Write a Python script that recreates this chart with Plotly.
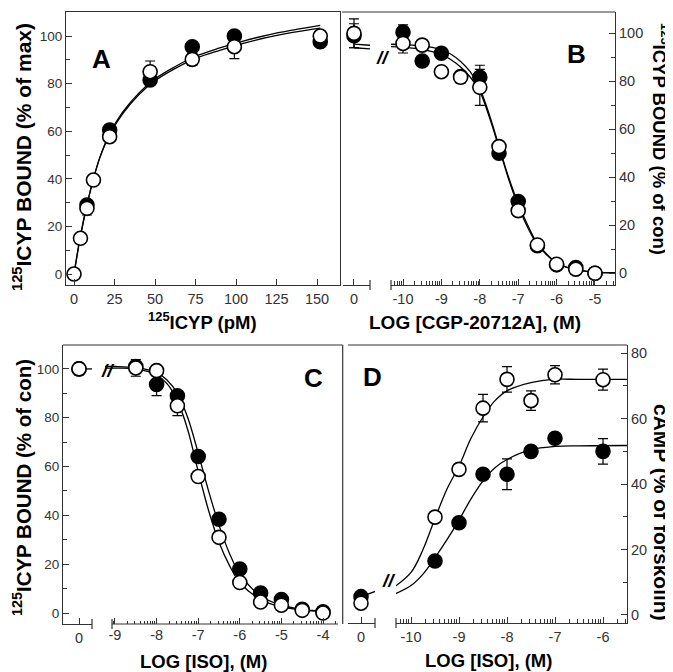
import numpy as np
import plotly.graph_objects as go

# The page body keeps an 8 px margin, so the figure is drawn 8 px smaller and
# all layout positions below are given in window pixels.
WIN_W, WIN_H = 673, 672
OFF = 8
W, H = WIN_W - OFF, WIN_H - OFF

# ---------------- data ----------------
# Panel A: saturation binding, 125ICYP (pM) vs % of max
a_conc_open = [0, 4, 8, 12, 22, 47, 73, 99, 152]
a_open = [0, 15, 27.6, 39.5, 57.7, 85, 90.2, 95.5, 100]
a_open_err = [0, 0, 2.8, 0, 0, 4.5, 2.5, 5, 0]
a_conc_fill = [8, 22, 47, 73, 99, 152]
a_fill = [29, 60.5, 81.5, 95.5, 100, 97.6]
a_fill_err = [0, 0, 2, 0, 0, 1.5]
a_fit_x = [0, 4, 8, 12, 16, 22, 30, 40, 50, 62, 75, 90, 105, 120, 135, 152]
a_fit_fill = [0, 16, 29, 40, 49, 59, 68, 76, 82, 87, 91.5, 95, 98, 100.5, 102.5, 104.5]
a_fit_open = [0, 16, 29, 40, 49, 58.5, 67.3, 75.3, 81.2, 86.2, 90.6, 94, 97, 99.5, 101.5, 103.3]

# Panel B: CGP-20712A competition
b_zero_fill, b_zero_fill_err = [99], [5]
b_zero_open, b_zero_open_err = [100], [6]
b_log = [-10, -9.5, -9, -8.5, -8, -7.5, -7, -6.5, -6, -5.5, -5]
b_fill = [100.5, 88.5, 91.7, 82, 81.7, 50, 29.9, 11.5, 3.5, 2.4, 0]
b_fill_err = [3, 0, 0, 0, 5, 0, 0, 0, 0, 0, 0]
b_open = [95.8, 95.1, 84, 81.7, 77.5, 52.8, 26.1, 11.8, 3.75, 1.7, 0]
b_open_err = [4, 0, 0, 2.5, 7.5, 0, 0, 0, 0, 0, 0]
b_fit_x = [-10.4, -10, -9.5, -9, -8.75, -8.5, -8.25, -8, -7.75, -7.5, -7.25, -7,
           -6.75, -6.5, -6, -5.5, -5, -4.4]
b_fit_fill = [95.5, 95.3, 94.8, 93.2, 91.3, 88.3, 84, 77, 66, 53, 40, 29, 20, 12.5,
              4.5, 1.5, 0.5, 0.2]
b_fit_open = [94.5, 94.2, 93.3, 91.2, 89, 86, 81.8, 75.8, 65, 52.3, 39.3, 28, 19, 12,
              4.3, 1.4, 0.5, 0.2]
b_stub_x = [0, 0.45]
b_stub_fill = [95.5, 95]
b_stub_open = [94, 93.5]

# Panel C: ISO competition
c_zero_fill, c_zero_fill_err = [100], [0]
c_zero_open, c_zero_open_err = [100], [2.4]
c_log = [-8.5, -8, -7.5, -7, -6.5, -6, -5.5, -5, -4.5, -4]
c_fill = [101, 93.6, 89, 64.1, 38.4, 18, 8.2, 5.5, 1.5, 0.5]
c_fill_err = [0, 4.5, 0, 0, 0, 0, 0, 0, 0, 0]
c_open = [100.4, 99.3, 84.9, 55.9, 31, 12.5, 4.5, 3.2, 1.1, 0]
c_open_err = [3.4, 0, 4, 0, 0, 0, 0, 0, 0, 0]
c_fit_x = [-9.3, -9, -8.5, -8, -7.75, -7.5, -7.25, -7, -6.75, -6.5, -6.25, -6,
           -5.5, -5, -4.5, -4]
c_fit_fill = [101, 101, 100.5, 98.5, 95.5, 90, 80, 65.5, 50, 36, 24.5, 16, 7, 3.2, 1.5, 0.8]
c_fit_open = [100.3, 100.3, 100, 97.5, 94, 87, 75, 58, 42, 29, 19.5, 12.5, 5.5, 2.5, 1.2, 0.6]
c_stub_x = [0, 0.4]
c_stub_open = [100, 100]

# Panel D: cAMP response to ISO
d_zero_fill = [5.6]
d_zero_open = [3.6]
d_log = [-9.5, -9, -8.5, -8, -7.5, -7, -6]
d_fill = [16.5, 28.2, 43, 43, 50, 54, 50]
d_fill_err = [0, 0, 0, 4.7, 0, 0, 3.9]
d_open = [29.9, 44.5, 63.2, 72, 65.5, 73.4, 71.9]
d_open_err = [0, 0, 4.2, 3.9, 3, 2.8, 3.2]
d_fit_x = [-10.4, -10, -9.75, -9.5, -9.25, -9, -8.75, -8.5, -8.25, -8, -7.5, -7, -6.5, -5.4]
d_fit_open = [8, 13, 20, 29.5, 38.5, 45.5, 54, 60.5, 65.5, 68.5, 71, 72, 72, 72]
d_fit_fill = [6, 9, 12.5, 17.5, 23, 29, 35.5, 41, 45, 47.5, 50.5, 51.5, 51.7, 51.8]
d_stub_x = [0, 0.35]
d_stub_fill = [5.6, 7.5]

# tick labels
a_xticks = [0, 25, 50, 75, 100, 125, 150]
pct_ticks = [0, 20, 40, 60, 80, 100]
pct_minor = [10, 30, 50, 70, 90]
camp_ticks = [0, 20, 40, 60, 80]
camp_minor = [10, 30, 50, 70]
b_xticks = [-10, -9, -8, -7, -6, -5]
c_xticks = [-9, -8, -7, -6, -5, -4]
d_xticks = [-10, -9, -8, -7, -6]


def fx(p):
    return (p - OFF) / W


def fy(p):
    return 1 - (p - OFF) / H


def xdom(a, b):
    return [fx(a), fx(b)]


def ydom(top, bottom):
    return [fy(bottom), fy(top)]


def log_minor(lo, hi):
    vals = [n + np.log10(k) for n in range(int(np.floor(lo)), int(np.ceil(hi)))
            for k in range(2, 10)]
    return [v for v in vals if lo < v < hi]


FONT = "Liberation Sans, Arial, sans-serif"
AX = "#333333"
XTICK = dict(family=FONT, size=14.5, color=AX)
YTICK = dict(family=FONT, size=13.5, color=AX)

base = dict(showline=True, linecolor=AX, linewidth=1.2, ticks="inside",
            tickcolor=AX, tickwidth=1.1, ticklen=6, showgrid=False,
            zeroline=False, fixedrange=True, tickfont=XTICK)


def ax(**kw):
    d = dict(base)
    d.update(kw)
    return d


def lbl(vals):
    return [str(v) for v in vals]


fig = go.Figure()


def curve(x, y, xa, ya):
    fig.add_trace(go.Scatter(x=x, y=y, mode="lines", xaxis=xa, yaxis=ya,
                             line=dict(color="black", width=1.3, shape="spline"),
                             showlegend=False, hoverinfo="skip"))


def points(x, y, err, xa, ya, filled):
    fig.add_trace(go.Scatter(
        x=x, y=y, mode="markers", xaxis=xa, yaxis=ya, showlegend=False,
        marker=dict(size=14, color="black" if filled else "white",
                    line=dict(color="black", width=1.6)),
        error_y=dict(type="data", array=err, visible=True, color="black",
                     thickness=1.2, width=5),
    ))


# Panel A
curve(a_fit_x, a_fit_fill, "x", "y")
curve(a_fit_x, a_fit_open, "x", "y")
points(a_conc_fill, a_fill, a_fill_err, "x", "y", True)
points(a_conc_open, a_open, a_open_err, "x", "y", False)

# Panel B
curve(b_stub_x, b_stub_fill, "x2", "y2")
curve(b_stub_x, b_stub_open, "x2", "y2")
curve(b_fit_x, b_fit_fill, "x3", "y2")
curve(b_fit_x, b_fit_open, "x3", "y2")
points([0], b_zero_fill, b_zero_fill_err, "x2", "y2", True)
points([0], b_zero_open, b_zero_open_err, "x2", "y2", False)
points(b_log, b_fill, b_fill_err, "x3", "y2", True)
points(b_log, b_open, b_open_err, "x3", "y2", False)

# Panel C
curve(c_stub_x, c_stub_open, "x4", "y3")
curve(c_fit_x, c_fit_fill, "x5", "y3")
curve(c_fit_x, c_fit_open, "x5", "y3")
points([0], c_zero_fill, c_zero_fill_err, "x4", "y3", True)
points([0], c_zero_open, c_zero_open_err, "x4", "y3", False)
points(c_log, c_fill, c_fill_err, "x5", "y3", True)
points(c_log, c_open, c_open_err, "x5", "y3", False)

# Panel D
curve(d_stub_x, d_stub_fill, "x6", "y4")
curve(d_fit_x, d_fit_open, "x7", "y4")
curve(d_fit_x, d_fit_fill, "x7", "y4")
points([0], d_zero_fill, [0], "x6", "y4", True)
points([0], d_zero_open, [0], "x6", "y4", False)
points(d_log, d_fill, d_fill_err, "x7", "y4", True)
points(d_log, d_open, d_open_err, "x7", "y4", False)

# ---------------- axes ----------------
b_rng = [-10.3125, -4.479]
c_rng = [-9.24, -3.64]
d_rng = [-10.3125, -5.5]
pct_minor_d = dict(tickvals=pct_minor, ticks="inside", ticklen=4, tickcolor=AX)
fig.update_layout(
    xaxis=ax(domain=xdom(66, 340), range=[-4.94, 164.2], anchor="y", mirror=True,
             tickvals=a_xticks, ticktext=lbl(a_xticks)),
    yaxis=ax(domain=ydom(12, 285), range=[-4.62, 110.1], anchor="x", mirror=True,
             tickvals=pct_ticks, ticktext=lbl(pct_ticks), tickfont=YTICK,
             minor=pct_minor_d),
    xaxis2=ax(domain=xdom(342.7, 370), range=[-0.294, 0.417], anchor="y2",
              tickvals=[0], ticktext=["0"]),
    xaxis3=ax(domain=xdom(391, 615), range=b_rng, anchor="y2",
              tickvals=b_xticks, ticktext=lbl(b_xticks),
              minor=dict(tickvals=log_minor(*b_rng), ticks="inside", ticklen=3.5,
                         tickcolor=AX)),
    yaxis2=ax(domain=ydom(12, 285), range=[-4.9, 108.9], anchor="x3", side="right",
              tickvals=pct_ticks, ticktext=lbl(pct_ticks), minor=pct_minor_d),
    xaxis4=ax(domain=xdom(63, 92), range=[-0.385, 0.3125], anchor="y3",
              tickvals=[0], ticktext=["0"]),
    xaxis5=ax(domain=xdom(105, 338), range=c_rng, anchor="y3", showline=False,
              tickvals=c_xticks, ticktext=lbl(c_xticks),
              minor=dict(tickvals=log_minor(-9.07, c_rng[1]), ticks="inside",
                         ticklen=3.5, tickcolor=AX)),
    yaxis3=ax(domain=ydom(345, 624), range=[-4.5, 109.8], anchor="x4",
              tickvals=pct_ticks, ticktext=lbl(pct_ticks), tickfont=YTICK,
              minor=pct_minor_d),
    xaxis6=ax(domain=xdom(348, 375), range=[-0.271, 0.292], anchor="y4",
              tickvals=[0], ticktext=["0"]),
    xaxis7=ax(domain=xdom(396, 627), range=d_rng, anchor="y4",
              tickvals=d_xticks, ticktext=lbl(d_xticks),
              minor=dict(tickvals=log_minor(*d_rng), ticks="inside", ticklen=3.5,
                         tickcolor=AX)),
    yaxis4=ax(domain=ydom(345, 623), range=[-2.45, 82.5], anchor="x7", side="right",
              tickvals=camp_ticks, ticktext=lbl(camp_ticks),
              minor=dict(tickvals=camp_minor, ticks="inside", ticklen=4, tickcolor=AX)),
)

# ---------------- frame pieces (borders, axis break caps) ----------------
line = dict(color=AX, width=1.2)
shapes = [
    dict(type="line", xref="paper", yref="paper", x0=fx(342), x1=fx(615),
         y0=fy(12), y1=fy(12), line=line),                     # B top
    dict(type="line", xref="paper", yref="paper", x0=fx(63), x1=fx(342.7),
         y0=fy(345), y1=fy(345), line=line),                   # C top
    dict(type="line", xref="paper", yref="paper", x0=fx(342.7), x1=fx(342.7),
         y0=fy(345), y1=fy(624), line=line),                   # C right
    dict(type="line", xref="paper", yref="paper", x0=fx(348), x1=fx(627),
         y0=fy(345), y1=fy(345), line=line),                   # D top
    dict(type="line", xref="paper", yref="paper", x0=fx(112), x1=fx(338),
         y0=fy(624), y1=fy(624), line=line),                   # C main x line
]
for xp, yp in [(370, 285), (391, 285), (92, 624), (112, 624), (375, 623), (396, 623)]:
    shapes.append(dict(type="line", xref="paper", yref="paper", x0=fx(xp), x1=fx(xp),
                       y0=fy(yp - 5), y1=fy(yp + 5), line=line))
fig.update_layout(shapes=shapes)

# ---------------- text ----------------
annos = [
    dict(x=fx(22), y=fy(157), size=21, textangle=-90,
         text="<b><sup>125</sup>ICYP BOUND (% of max)</b>"),
    dict(x=fx(202), y=fy(321), size=18.5, text="<b><sup>125</sup>ICYP (pM)</b>"),
    dict(x=fx(475), y=fy(322), size=19, text="<b>LOG [CGP-20712A], (M)</b>"),
    dict(x=fx(661), y=fy(139), size=18.5, textangle=90,
         text="<b><sup>125</sup>ICYP BOUND (% of con)</b>"),
    dict(x=fx(22), y=fy(488), size=20.5, textangle=-90,
         text="<b><sup>125</sup>ICYP BOUND (% of con)</b>"),
    dict(x=fx(203), y=fy(661), size=18.5, text="<b>LOG [ISO], (M)</b>"),
    dict(x=fx(488), y=fy(660), size=18.5, text="<b>LOG [ISO], (M)</b>"),
    dict(x=fx(662), y=fy(512), size=21, textangle=90,
         text="<b>cAMP (% of forskolin)</b>"),
]
for a in annos:
    size = a.pop("size")
    a.update(xref="paper", yref="paper", showarrow=False,
             font=dict(family=FONT, size=size, color="black"),
             xanchor="center", yanchor="middle")
letters = [("A", 90, 42), ("B", 588, 37), ("C", 313, 378), ("D", 372, 377)]
for t, xp, yp in letters:
    annos.append(dict(x=fx(xp), y=fy(yp), text=f"<b>{t}</b>", xref="paper",
                      yref="paper", showarrow=False,
                      font=dict(family=FONT, size=26, color="black")))
for xp, yp in [(382, 45), (99, 370), (388, 593)]:
    annos.append(dict(x=fx(xp), y=fy(yp), text="<b><i>//</i></b>", xref="paper",
                      yref="paper", showarrow=False,
                      font=dict(family=FONT, size=19, color="black")))
fig.update_layout(annotations=annos)

fig.update_layout(
    width=W, height=H, margin=dict(l=0, r=0, t=0, b=0),
    paper_bgcolor="white", plot_bgcolor="white", showlegend=False,
    font=dict(family=FONT),
)

fig.write_html("out.html")
